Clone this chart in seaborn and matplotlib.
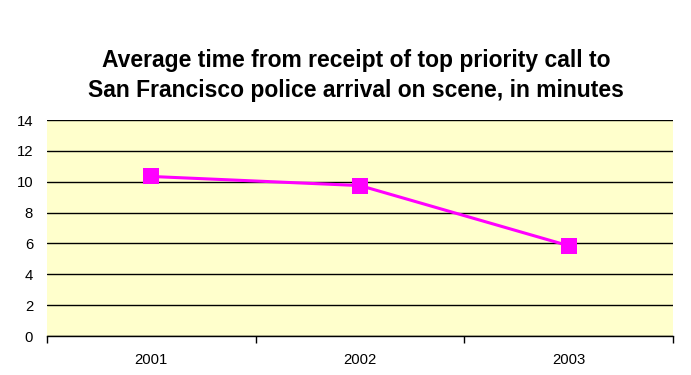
import matplotlib
matplotlib.use("Agg")
import matplotlib.pyplot as plt
import pandas as pd
import seaborn as sns

# Dados
years = ["2001", "2002", "2003"]
minutes = [10.34, 9.75, 5.85]
y_ticks = [0, 2, 4, 6, 8, 10, 12, 14]
title_lines = ["Average time from receipt of top priority call to",
               "San Francisco police arrival on scene, in minutes"]

df = pd.DataFrame({"ano": years, "minutos": minutes})

sns.set_style("white")
plt.rcParams["font.family"] = ["Liberation Sans", "DejaVu Sans"]
plt.rcParams["text.color"] = "black"
plt.rcParams["xtick.color"] = "black"
plt.rcParams["ytick.color"] = "black"

fig = plt.figure(figsize=(6.91, 3.75), dpi=100)
ax = fig.add_axes([47 / 691, 39 / 375, 626 / 691, 216 / 375])
ax.set_facecolor("#FFFFCC")

sns.lineplot(data=df, x="ano", y="minutos", ax=ax, color="#FF00FF",
             linewidth=2.2, marker="s", markersize=11.5, markeredgewidth=0,
             zorder=3)

ax.set_xlim(-0.5, 2.5)
ax.set_ylim(0, 14)
ax.set_yticks(y_ticks)
ax.set_yticklabels([str(t) for t in y_ticks], fontsize=10.7)
ax.yaxis.grid(True, color="black", linewidth=1)
ax.set_axisbelow(True)

ax.set_xticks([0, 1, 2])
ax.set_xticklabels(years, fontsize=10.7)
ax.set_xticks([-0.5, 0.5, 1.5, 2.5], minor=True)
ax.tick_params(axis="x", which="major", length=0, pad=12)
ax.tick_params(axis="x", which="minor", length=5, width=1, direction="out",
               color="black", bottom=True)
ax.tick_params(axis="y", length=0, pad=10)

for side in ["top", "right", "left"]:
    ax.spines[side].set_visible(False)
ax.spines["bottom"].set_color("black")
ax.spines["bottom"].set_linewidth(1)

ax.set_xlabel("")
ax.set_ylabel("")

# título em duas linhas, alinhado pela linha de base
for line, base in zip(title_lines, [67, 97]):
    fig.text(356 / 691, 1 - base / 375, line, ha="center", va="baseline",
             fontsize=16.5, fontweight="bold", color="black")

fig.savefig("out.png", dpi=100, facecolor="white")
